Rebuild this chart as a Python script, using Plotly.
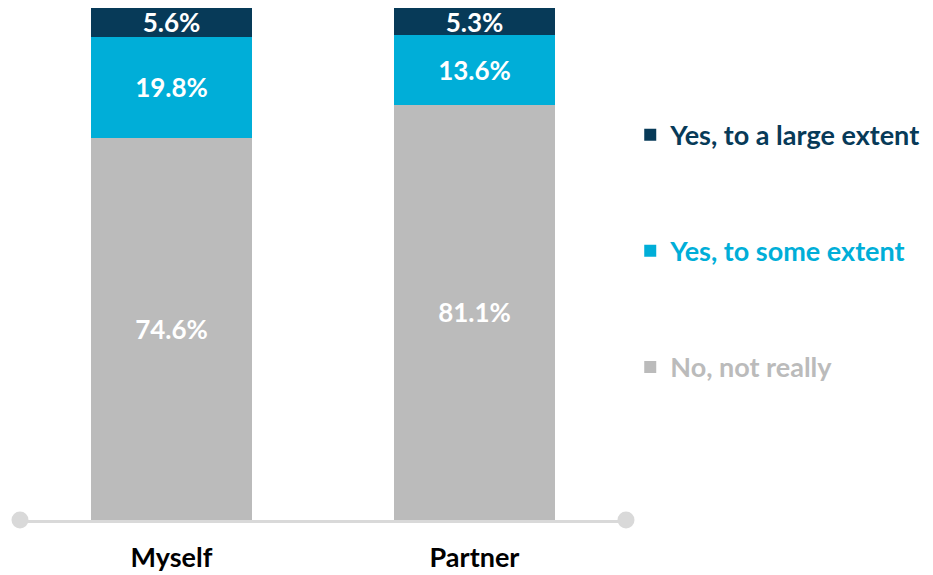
import plotly.graph_objects as go

categories = ["Myself", "Partner"]
no_not_really = [74.6, 81.1]
yes_some_extent = [19.8, 13.6]
yes_large_extent = [5.6, 5.3]

series = [
    ("No, not really", no_not_really, "#BBBBBB", 3),
    ("Yes, to some extent", yes_some_extent, "#00AED8", 2),
    ("Yes, to a large extent", yes_large_extent, "#073A58", 1),
]

FONT = "Lato"
AXIS_GREY = "#D9D9D9"

fig = go.Figure()
for i, (name, vals, color, rank) in enumerate(series):
    fig.add_trace(go.Bar(
        x=categories,
        y=vals,
        name=f"<span style='color:{color}'>{name}</span>",
        marker=dict(color=color, line=dict(width=0)),
        width=0.53,
        text=[f"{v:.1f}%" for v in vals],
        textposition="inside",
        insidetextanchor="middle",
        constraintext="none",
        textfont=dict(family=FONT, size=26, color="white", weight="bold"),
        legendgroup=str(i),
        legendrank=rank,
        hoverinfo="skip",
    ))

# round end caps on the category axis line (paper refs so they are not clipped)
for xd in (0, 1):
    fig.add_shape(
        type="circle",
        xref="paper", yref="paper",
        xsizemode="pixel", ysizemode="pixel",
        xanchor=xd, yanchor=0,
        x0=-8.5, x1=8.5, y0=-8.5, y1=8.5,
        fillcolor=AXIS_GREY, line=dict(width=0),
        layer="above",
    )

fig.update_layout(
    barmode="stack",
    width=933, height=575,
    margin=dict(l=20, r=304, t=8, b=55),
    plot_bgcolor="white",
    paper_bgcolor="white",
    font=dict(family=FONT),
    showlegend=True,
    legend=dict(
        x=1.007, xanchor="left",
        y=0.525, yanchor="middle",
        traceorder="grouped",
        tracegroupgap=78,
        font=dict(family=FONT, size=27, weight="bold"),
        itemwidth=30,
    ),
    xaxis=dict(
        type="category",
        range=[-0.5, 1.5],
        showline=True, linecolor=AXIS_GREY, linewidth=2.5,
        showgrid=False, zeroline=False, ticks="",
        tickfont=dict(family=FONT, size=27, color="black", weight="bold"),
        ticklabelstandoff=12,
        automargin=False,
    ),
    yaxis=dict(
        range=[0, 100],
        visible=False,
        showgrid=False, zeroline=False,
        automargin=False,
    ),
)

fig.write_html("out.html")
